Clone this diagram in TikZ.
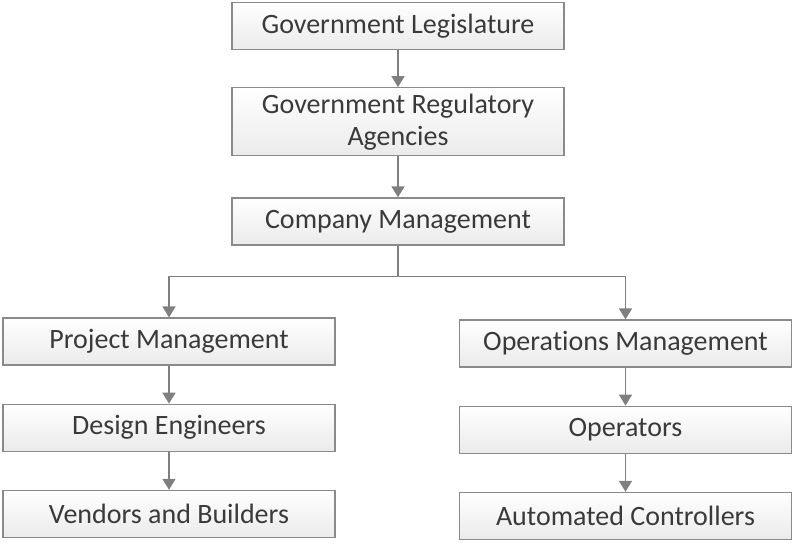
\documentclass[tikz,border=0pt]{standalone}
\usepackage{fontspec}
\setmainfont{Carlito}[Ligatures=NoCommon]
\usetikzlibrary{arrows.meta,positioning,calc}
\definecolor{orgline}{HTML}{8A8A8A}
\definecolor{orgarrow}{HTML}{7F7F7F}
\definecolor{orgtext}{HTML}{3A3A3A}
\tikzset{
  unit/.style={draw=orgline,line width=1.2pt,top color=white,bottom color=black!8,
               align=center,minimum width=332pt,minimum height=47pt,inner sep=3pt,
               font=\fontsize{28}{32}\selectfont,text=orgtext},
  ar/.style={-{Triangle[length=11pt,width=13pt]},line width=1.6pt,orgarrow},
}
\begin{document}
\begin{tikzpicture}[x=1pt,y=-1pt,node distance=38pt]
      \useasboundingbox (0,0) rectangle (800,547);
      \node[unit] (leg) at (398,26) {Government Legislature};
      \node[unit,below=37pt of leg,minimum height=68pt] (reg) {Government Regulatory\\Agencies};
      \node[unit,below=41pt of reg] (cm) {Company Management};
      \node[unit] (pm) at (169,341.5) {Project Management};
      \node[unit,below=of pm] (de) {Design Engineers};
      \node[unit,below=of de] (vb) {Vendors and Builders};
      \node[unit] (om) at (625.5,343.5) {Operations Management};
      \node[unit,below=of om] (op) {Operators};
      \node[unit,below=of op] (ac) {Automated Controllers};
      \foreach \a/\b in {leg/reg,reg/cm,pm/de,de/vb,om/op,op/ac}
        {\draw[ar](\a)--(\b);}
      \coordinate (fork) at ($(cm.south)+(0,31)$);
      \draw[ar] (cm.south) |- (fork) -| (pm.north);
      \draw[ar] (fork) -| (om.north);
    \end{tikzpicture}
\end{document}
